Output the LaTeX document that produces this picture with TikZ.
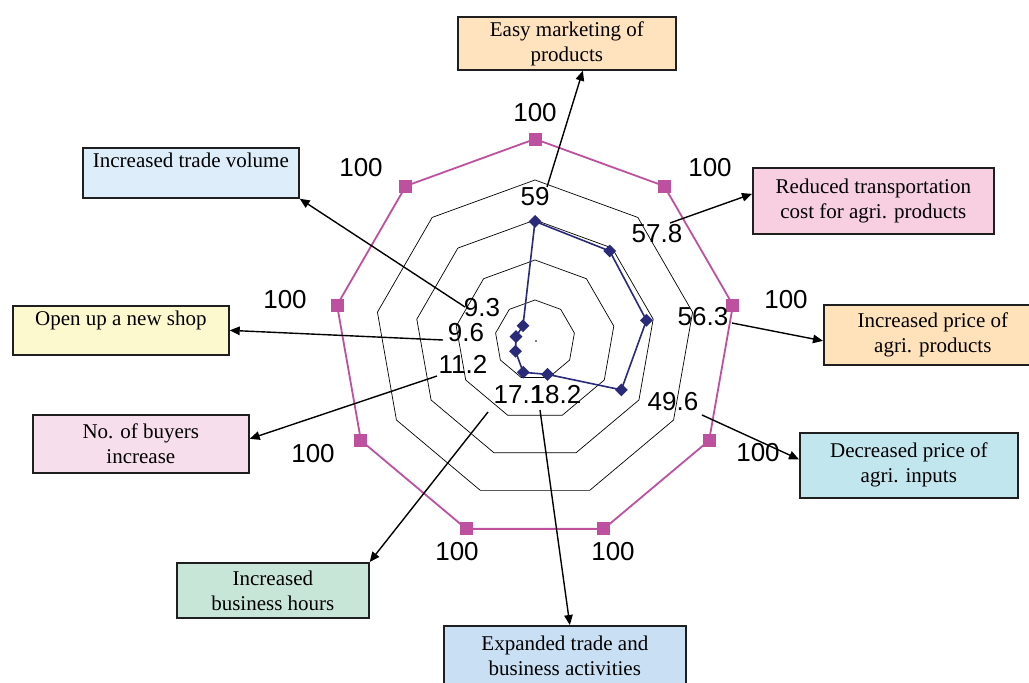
\documentclass[tikz,border=0pt]{standalone}
\usepackage{fontspec}
\setmainfont{Liberation Serif}
\newfontfamily\numfont{Liberation Sans}
\usetikzlibrary{arrows.meta,calc,shapes.geometric}
\definecolor{magline}{HTML}{BE50A0}
\definecolor{navyline}{HTML}{2A2A7A}
\definecolor{cEasy}{HTML}{FFE3BF}
\definecolor{cTrade}{HTML}{DDEEFA}
\definecolor{cReduced}{HTML}{F7CFE1}
\definecolor{cShop}{HTML}{FCF9CE}
\definecolor{cPrice}{HTML}{FFE1BA}
\definecolor{cBuyers}{HTML}{F7DEEC}
\definecolor{cDecr}{HTML}{C2E6EE}
\definecolor{cHours}{HTML}{C8E6D8}
\definecolor{cExp}{HTML}{C9DFF3}
\begin{document}
\begin{tikzpicture}[x=1pt,y=-1pt,
  box/.style={draw=black!88, line width=1.7pt, align=center, anchor=north west,
    font=\fontsize{21}{25}\selectfont, inner sep=0pt},
  num/.style={font=\numfont\fontsize{26}{28}\selectfont, inner sep=0pt},
  grid/.style={black, line width=0.7pt},
  callout/.style={-{Triangle[length=10pt,width=8.5pt]}, line width=1.4pt, black},
  sq/.style={rectangle, fill=magline, minimum size=13pt, inner sep=0pt},
  dia/.style={diamond, fill=navyline, minimum size=13pt, inner sep=0pt}]
\useasboundingbox (0,0) rectangle (1029,683);
\clip (0,0) rectangle (1029,683);
\fill[white] (0,0) rectangle (1029,683);

% grid polygons
\foreach \r in {40,80,120,160}{
  \draw[grid] (535,{340-\r}) \foreach \k in {1,...,8}{ -- ({535+\r*cos(90-40*\k)},{340-\r*sin(90-40*\k)}) } -- cycle;
}
\fill (536,341) circle (0.8pt);

% magenta series (100)
\foreach \k in {0,...,8}{
  \coordinate (m\k) at ({535+201*cos(90-40*\k)},{340-201*sin(90-40*\k)});
}
\draw[magline, line width=1.8pt] (m0) -- (m1) -- (m2) -- (m3) -- (m4) -- (m5) -- (m6) -- (m7) -- (m8) -- cycle;
\foreach \k in {0,...,8}{ \node[sq] (sq\k) at (m\k) {}; }

% navy series
\foreach \v [count=\i from 0] in {59,57.8,56.3,49.6,18.2,17.1,11.2,9.6,9.3}{
  \coordinate (d\i) at ({535+2.01*\v*cos(90-40*\i)},{340-2.01*\v*sin(90-40*\i)});
}
\draw[navyline, line width=1.6pt] (d0) -- (d1) -- (d2) -- (d3) -- (d4) -- (d5) -- (d6) -- (d7) -- (d8) -- cycle;
\foreach \k in {0,...,8}{ \node[dia] (dm\k) at (d\k) {}; }

% 100 labels
\node[num] (h0) at (535,113) {100};
\node[num] (h1) at (710,168) {100};
\node[num] (h2) at (786,300) {100};
\node[num] (h3) at (758,453) {100};
\node[num] (h4) at (613,552) {100};
\node[num] (h5) at (457,552) {100};
\node[num] (h6) at (313,454) {100};
\node[num] (h7) at (285,300) {100};
\node[num] (h8) at (361,168) {100};

% value labels
\node[num] (v0) at (535,197) {59};
\node[num] (v1) at (657,234) {57.8};
\node[num] (v2) at (703,317) {56.3};
\node[num] (v3) at (673,402) {49.6};
\node[num] (v5) at (519,395) {17.1};
\node[num] (v4) at (556,395) {18.2};
\node[num] (v6) at (463,364) {11.2};
\node[num] (v7) at (466,333) {9.6};
\node[num] (v8) at (482,308) {9.3};

% boxes
\node[box, fill=cEasy, minimum width=218pt, minimum height=53pt] (easy) at (457,16) {Easy marketing of\\products};
\node[box, fill=cTrade, minimum width=216pt, minimum height=50pt] (trade) at (82,147) {Increased trade volume\\\phantom{I}};
\node[box, fill=cReduced, minimum width=241pt, minimum height=66pt] (reduced) at (752,167) {Reduced transportation\\cost for agri. products};
\node[box, fill=cShop, minimum width=216pt, minimum height=49pt] (shop) at (12,305) {Open up a new shop\\\phantom{I}};
\node[box, fill=cPrice, minimum width=218pt, minimum height=60pt] (price) at (823,304) {Increased price of\\agri. products};
\node[box, fill=cBuyers, minimum width=216pt, minimum height=58pt] (buyers) at (32,414) {No. of buyers\\increase};
\node[box, fill=cDecr, minimum width=218pt, minimum height=65pt] (decr) at (799,432) {Decreased price of\\agri. inputs};
\node[box, fill=cHours, minimum width=192pt, minimum height=55pt] (hours) at (176,562) {Increased\\business hours};
\node[box, fill=cExp, minimum width=242pt, minimum height=60pt] (exp) at (443,625) {Expanded trade and\\business activities};

% arrow tails
\coordinate (t0) at (547,187);
\coordinate (t1) at (670,223);
\coordinate (t2) at (732,323);
\coordinate (t3) at (702,415);
\coordinate (t4) at (540,410);
\coordinate (t5) at (488,412);
\coordinate (t6) at (437,376);
\coordinate (t7) at (443,340);
\coordinate (t8) at (465,307);

% callout arrows
\draw[callout] (t0) -- ($(easy.south)+(16,0)$);
\draw[callout] (t1) -- ($(reduced.west)+(0,-7)$);
\draw[callout] (t2) -- ($(price.west)+(0,6)$);
\draw[callout] (t3) -- ($(decr.west)+(0,-6)$);
\draw[callout] (t4) -- ($(exp.north)+(5,0)$);
\draw[callout] (t5) -- (hours.north east);
\draw[callout] (t6) -- ($(buyers.east)+(0,-5)$);
\draw[callout] (t7) -- (shop.east);
\draw[callout] (t8) -- (trade.south east);
\end{tikzpicture}
\end{document}
